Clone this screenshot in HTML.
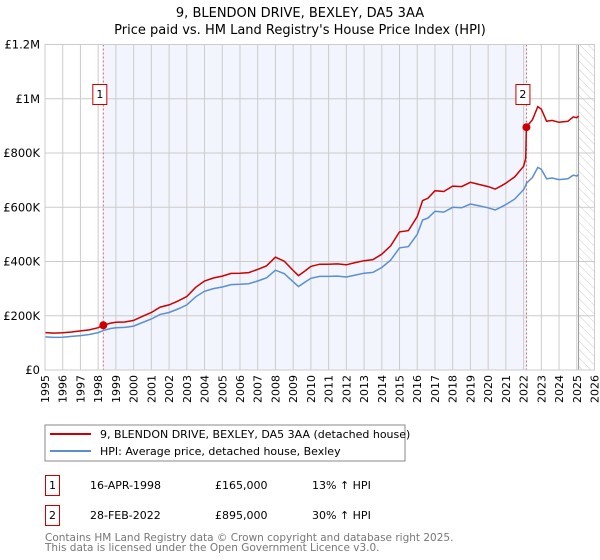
<!DOCTYPE html>
<html><head><meta charset="utf-8"><style>
body{margin:0;background:#fff}
svg{display:block;font-family:"DejaVu Sans","Liberation Sans",sans-serif}
</style></head><body>
<svg id="c" width="600" height="560" viewBox="0 0 600 560">
<text x="300" y="17" font-size="13" text-anchor="middle">9, BLENDON DRIVE, BEXLEY, DA5 3AA</text>
<text x="300" y="34" font-size="13" text-anchor="middle">Price paid vs. HM Land Registry's House Price Index (HPI)</text>
<defs><pattern id="hatch" width="6" height="6" patternUnits="userSpaceOnUse" patternTransform="rotate(-45)"><line x1="0" y1="0" x2="0" y2="6" stroke="#ccc" stroke-width="1"/></pattern></defs>
<g id="plot"></g>
<rect x="45" y="425" width="360" height="36" fill="#fff" stroke="#888"/>
<line x1="50" y1="434" x2="91" y2="434" stroke="#cc0000" stroke-width="2"/>
<text x="100" y="438" font-size="11">9, BLENDON DRIVE, BEXLEY, DA5 3AA (detached house)</text>
<line x1="50" y1="451" x2="91" y2="451" stroke="#5b8fd0" stroke-width="2"/>
<text x="100" y="455" font-size="11">HPI: Average price, detached house, Bexley</text>
<g font-size="11">
<rect x="45.5" y="475.5" width="14" height="20" fill="#fff" stroke="#cc0000"/>
<text x="52.5" y="489" text-anchor="middle">1</text>
<text x="90" y="489">16-APR-1998</text>
<text x="215" y="489">£165,000</text>
<text x="312" y="489">13% ↑ HPI</text>
<rect x="45.5" y="505.5" width="14" height="20" fill="#fff" stroke="#cc0000"/>
<text x="52.5" y="519" text-anchor="middle">2</text>
<text x="90" y="519">28-FEB-2022</text>
<text x="215" y="519">£895,000</text>
<text x="312" y="519">30% ↑ HPI</text>
</g>
<text x="45" y="541" font-size="10.5" fill="#777">Contains HM Land Registry data © Crown copyright and database right 2025.</text>
<text x="45" y="551" font-size="10.5" fill="#777">This data is licensed under the Open Government Licence v3.0.</text>
</svg>
<script>
const dates=[1995.0,1995.5,1996.0,1996.5,1997.0,1997.5,1998.0,1998.3,1998.7,1999.0,1999.5,2000.0,2000.5,2001.0,2001.5,2002.0,2002.5,2003.0,2003.5,2004.0,2004.5,2005.0,2005.5,2006.0,2006.5,2007.0,2007.5,2008.0,2008.5,2009.0,2009.3,2009.7,2010.0,2010.5,2011.0,2011.5,2012.0,2012.5,2013.0,2013.5,2014.0,2014.5,2015.0,2015.5,2016.0,2016.3,2016.6,2017.0,2017.5,2018.0,2018.5,2019.0,2019.5,2020.0,2020.4,2020.8,2021.0,2021.5,2022.0,2022.12,2022.16,2022.5,2022.8,2023.0,2023.3,2023.6,2024.0,2024.5,2024.8,2025.0,2025.1];
const hpiValues=[122,120,121,124,127,131,138,146,153,156,157,162,175,188,205,212,225,240,270,290,300,306,315,316,318,328,340,368,355,325,308,325,338,345,345,346,343,350,357,360,378,405,450,455,500,553,560,585,582,600,598,612,605,598,590,603,610,630,665,680,688,710,747,740,705,708,702,705,718,715,720];
const propertyValues=[138,136,137,140,144,148,156,165,173,176,177,183,198,212,232,240,254,271,305,328,339,346,356,357,359,371,384,416,401,367,348,367,382,390,390,391,388,396,403,407,427,458,509,514,565,625,633,661,658,678,676,692,684,676,667,681,689,712,751,780,895,923,971,962,917,920,913,917,933,930,936];
const saleDates=[1998.29,2022.16];
const salePrices=[165,895];
const saleLabels=["1","2"];
const yTicks=[0,200,400,600,800,1000,1200];
const yTickLabels=["£0","£200K","£400K","£600K","£800K","£1M","£1.2M"];
const years=[1995,1996,1997,1998,1999,2000,2001,2002,2003,2004,2005,2006,2007,2008,2009,2010,2011,2012,2013,2014,2015,2016,2017,2018,2019,2020,2021,2022,2023,2024,2025,2026];

const X0=45,X1=594.5,Y0=370,Y1=44.5,NS="http://www.w3.org/2000/svg";
const xs=d=>X0+(d-1995)/(2026-1995)*(X1-X0);
const ys=v=>Y0-v/1200*(Y0-Y1);
const g=document.getElementById('plot');
function el(t,a){const e=document.createElementNS(NS,t);for(const k in a)e.setAttribute(k,a[k]);g.appendChild(e);return e;}
let e;
e=el('rect',{x:xs(saleDates[0]),y:Y1,width:xs(saleDates[1])-xs(saleDates[0]),height:Y0-Y1,fill:'#f2f5fd'});


e=el('rect',{x:xs(2025.1),y:Y1,width:X1-xs(2025.1),height:Y0-Y1,fill:'url(#hatch)'});


years.forEach(y=>{
 e=el('line',{x1:xs(y),x2:xs(y),y1:Y1,y2:Y0,stroke:'#ccc','stroke-width':1});
 
 
 e=el('text',{x:0,y:0,'font-size':11,'text-anchor':'end',transform:`translate(${xs(y)+4},375) rotate(-90)`});
 e.textContent=y;
 
 
});
yTicks.forEach((v,i)=>{
 e=el('line',{x1:X0,x2:X1,y1:ys(v),y2:ys(v),stroke:'#ccc','stroke-width':1});
 
 
 e=el('text',{x:40,y:ys(v)+4,'font-size':11.5,'text-anchor':'end'});
 e.textContent=yTickLabels[i];
 
 
});
e=el('line',{x1:xs(2025.1),x2:xs(2025.1),y1:Y1,y2:Y0,stroke:'#999','stroke-width':1});


saleDates.forEach((d,i)=>{
 e=el('line',{x1:xs(d),x2:xs(d),y1:Y1,y2:Y0,stroke:'#e06060','stroke-width':1,'stroke-dasharray':'2,2'});
 
 
});
const pts=a=>a.map((v,i)=>xs(dates[i]).toFixed(1)+','+ys(v).toFixed(1)).join(' ');
e=el('polyline',{points:pts(hpiValues),fill:'none',stroke:'#5b8fd0','stroke-width':1.5});


e=el('polyline',{points:pts(propertyValues),fill:'none',stroke:'#cc0000','stroke-width':1.5});


saleDates.forEach((d,i)=>{
 e=el('circle',{cx:xs(d),cy:ys(salePrices[i]),r:4,fill:'#cc0000'});
 
 
 e=el('rect',{x:xs(d)-10.5,y:84.5,width:14,height:20,fill:'#fff',stroke:'#cc0000'});
 
 
 e=el('text',{x:xs(d)-3.5,y:98,'font-size':11,'text-anchor':'middle'});
 e.textContent=saleLabels[i];
 
 
});
e=el('rect',{x:X0,y:Y1,width:X1-X0,height:Y0-Y1,fill:'none',stroke:'#ccc'});


</script>
</body></html>
